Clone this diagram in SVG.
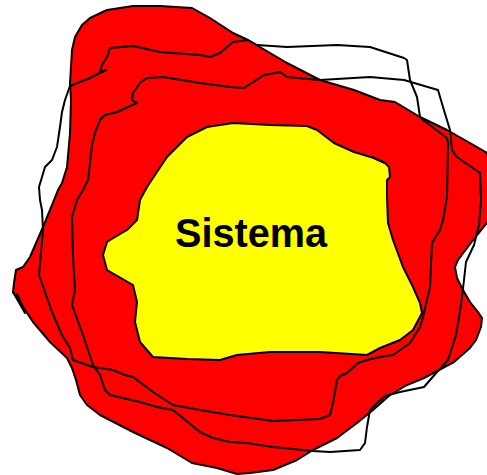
<svg xmlns="http://www.w3.org/2000/svg" width="487" height="475" viewBox="0 0 487 475">
<style>
.ln{fill:none;stroke:#000;stroke-width:2;stroke-linejoin:round;stroke-linecap:round}
.sh{stroke:#000;stroke-width:2;stroke-linejoin:round}
.lbl{font-family:"Liberation Sans",Arial,sans-serif;font-weight:bold;font-size:41px;fill:#000}
</style>
<rect width="487" height="475" fill="#fff"/>
<g id="entorno">
<path class="sh" fill="#ff0000" d="M192,8 L210,18 L233,33 L248,40 L287,63 L320,80 L354,90 L380,100 L395,102 L420,117 L447,130 L470,143 L487,153 L495,180 L492,215 L487,223 L477,235 L467,248 L458,260 L455,267 L457,278 L463,290 L470,302 L478,312 L482,318 L481,327 L476,340 L470,348 L454,362 L424,378 L407,385 L390,395 L373,410 L357,423 L337,438 L313,450 L297,460 L273,470 L250,473 L237,474 L217,468 L192,463 L167,448 L133,432 L100,415 L87,405 L80,395 L76,380 L72,368 L67,358 L50,342 L33,322 L13,292 L14,283 L16,270 L23,267 L30,257 L43,227 L50,210 L58,190 L62,183 L67,167 L70,133 L71,100 L70,83 L72,50 L75,37 L82,25 L90,18 L107,10 L133,6 L160,6 Z"/>
<path class="ln" d="M13,292 L25,313 M17,294 L24,309"/>
</g>
<g id="sistema">
<path class="sh" fill="#ffff00" d="M233,123 L270,125 L307,126 L317,130 L334,143 L354,152 L374,158 L385,163 L389,167 L390,177 L387,180 L387,197 L388,223 L393,240 L403,267 L413,287 L420,303 L422,313 L413,330 L400,340 L380,348 L367,355 L320,352 L270,352 L237,355 L220,360 L187,359 L153,357 L140,342 L135,322 L137,302 L133,285 L107,270 L103,255 L107,242 L110,240 L127,230 L137,220 L140,200 L147,187 L167,157 L187,137 L207,127 Z"/>
<path class="ln" d="M372,157 L385,163"/>
<text class="lbl" x="175" y="247" textLength="152" lengthAdjust="spacingAndGlyphs">Sistema</text>
</g>
<g id="conectores">
<path id="linea1" class="ln" d="M70,86 L65,100 L62,112 L60,127 L57,147 L52,160 L45,167 L42,177 L39,187 L40,200 L42,210 L43,230 L39,275 L45,292 L52,312 L62,335 L70,348 L73,360 L93,367 L113,370 L125,375 L133,377 L153,392 L173,405 L200,410 L230,415 L273,421 L320,419 L330,415 L333,403 L337,380 L340,376 L347,373 L358,363 L367,360 L380,357 L393,355 L410,343 L420,327 L423,317 L430,287 L432,243 L435,238 L440,230 L443,220 L447,197 L448,143 L447,138 L423,120 L420,117 L417,97 L410,80 L407,60 L404,58 L370,47 L337,45 L287,47 L257,45 L248,40 L233,42 L220,53 L210,57 L200,55 L160,52 L133,46 L110,48 L107,57 L102,65 L100,72 L106,70 L100,73 L90,78 L80,82 Z"/>
<path id="linea2" class="ln" d="M137,103 L132,100 L133,93 L140,83 L147,78 L163,77 L200,83 L230,87 L244,88 L264,75 L280,72 L287,77 L320,80 L370,77 L404,80 L438,90 L443,107 L450,130 L452,150 L457,157 L480,173 L481,200 L479,225 L474,245 L466,262 L464,280 L461,305 L456,335 L448,360 L437,372 L424,387 L400,392 L385,396 L377,403 L370,410 L367,427 L365,443 L360,450 L330,452 L313,451 L273,447 L247,443 L230,442 L213,438 L200,432 L173,410 L157,407 L140,402 L110,395 L105,390 L100,375 L93,365 L83,335 L72,305 L75,290 L73,257 L72,217 L77,200 L83,190 L88,180 L90,163 L92,145 L95,133 L100,120 L105,115 L117,112 L130,106 Z"/>
</g>
</svg>
